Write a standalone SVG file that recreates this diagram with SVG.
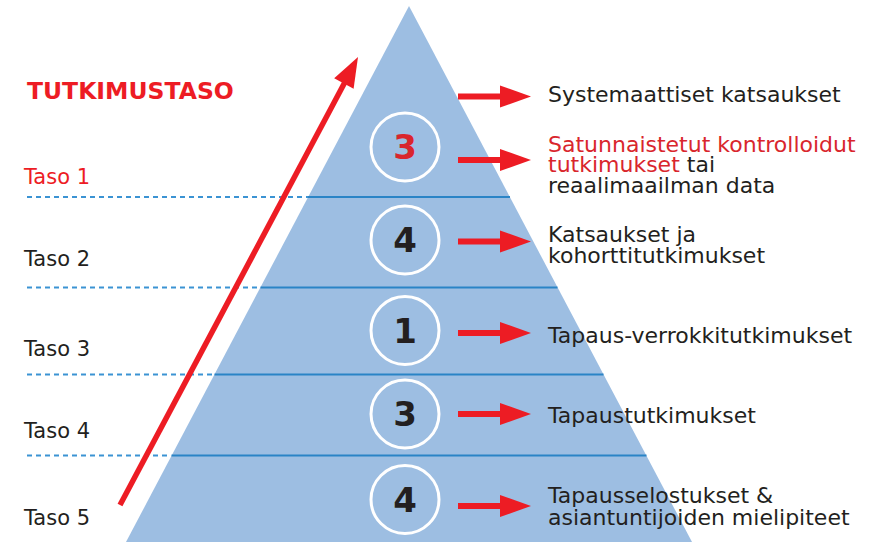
<svg xmlns="http://www.w3.org/2000/svg" width="886" height="542" viewBox="0 0 886 542">
<style>
.t{font-family:"DejaVu Sans","Verdana",sans-serif;font-size:22px;fill:#231f20}
.lv{font-family:"DejaVu Sans","Verdana",sans-serif;font-size:21px;fill:#231f20}
.red{fill:#d9262d}
.num{font-family:"DejaVu Sans","Verdana",sans-serif;font-weight:bold;font-size:34px;fill:#231f20;text-anchor:middle}
.circ{fill:none;stroke:#ffffff;stroke-width:3}
.sol{stroke:#2a84c6;stroke-width:2}
.dash{stroke:#3b93d3;stroke-width:2;stroke-dasharray:5 4}
.ar{fill:#ed1c24}
</style>
<rect width="886" height="542" fill="#ffffff"/>
<g id="pyramid">
<polygon points="409,6 692,542 126,542" fill="#9dbee2"/>
<line class="sol" x1="308" y1="197" x2="510" y2="197"/>
<line class="sol" x1="260.5" y1="287.5" x2="557.5" y2="287.5"/>
<line class="sol" x1="214.5" y1="374.5" x2="603.5" y2="374.5"/>
<line class="sol" x1="171.5" y1="455.5" x2="646.5" y2="455.5"/>
</g>
<g id="levels">
<line class="dash" x1="27" y1="197" x2="308" y2="197"/>
<line class="dash" x1="27" y1="287.5" x2="260" y2="287.5"/>
<line class="dash" x1="27" y1="374.5" x2="214" y2="374.5"/>
<line class="dash" x1="27" y1="455.5" x2="171" y2="455.5"/>
<text x="27" y="99" font-family="DejaVu Sans, Verdana, sans-serif" font-weight="bold" font-size="23.5" fill="#ed1c24">TUTKIMUSTASO</text>
<text class="lv" x="24" y="184" fill="#ed1c24" style="fill:#ed1c24">Taso 1</text>
<text class="lv" x="24" y="266">Taso 2</text>
<text class="lv" x="24" y="356">Taso 3</text>
<text class="lv" x="24" y="438">Taso 4</text>
<text class="lv" x="24" y="525">Taso 5</text>
</g>
<g id="node-1">
<circle class="circ" cx="405" cy="147" r="34"/>
<text class="num" x="405" y="159" style="fill:#d9262d">3</text>
</g>
<g id="node-2">
<circle class="circ" cx="405" cy="240" r="34"/>
<text class="num" x="405" y="252">4</text>
</g>
<g id="node-3">
<circle class="circ" cx="405" cy="330.5" r="34"/>
<text class="num" x="405" y="342.5">1</text>
</g>
<g id="node-4">
<circle class="circ" cx="405" cy="414" r="34"/>
<text class="num" x="405" y="426">3</text>
</g>
<g id="node-5">
<circle class="circ" cx="405" cy="499.5" r="34"/>
<text class="num" x="405" y="511.5">4</text>
</g>
<g id="labels">
<text class="t" x="548" y="101.5">Systemaattiset katsaukset</text>
<text class="t" x="548" y="151.5"><tspan class="red">Satunnaistetut kontrolloidut</tspan></text>
<text class="t" x="548" y="172"><tspan class="red">tutkimukset</tspan> tai</text>
<text class="t" x="548" y="193">reaalimaailman data</text>
<text class="t" x="548" y="241.5">Katsaukset ja</text>
<text class="t" x="548" y="263">kohorttitutkimukset</text>
<text class="t" x="548" y="342.5">Tapaus-verrokkitutkimukset</text>
<text class="t" x="548" y="423">Tapaustutkimukset</text>
<text class="t" x="548" y="502.5">Tapausselostukset &amp;</text>
<text class="t" x="548" y="525">asiantuntijoiden mielipiteet</text>
</g>
<g id="connectors">
<line x1="120" y1="505" x2="345" y2="82" stroke="#ed1c24" stroke-width="5.5"/>
<polygon class="ar" points="358,57 353.6,88.7 343.9,83.5 334.2,78.3"/>
<rect class="ar" x="458" y="93.5" width="44" height="6"/>
<polygon class="ar" points="500,85.5 531,96.5 500,107.5"/>
<rect class="ar" x="458" y="157" width="44" height="6"/>
<polygon class="ar" points="500,149 531,160 500,171"/>
<rect class="ar" x="458" y="238.5" width="44" height="6"/>
<polygon class="ar" points="500,230.5 531,241.5 500,252.5"/>
<rect class="ar" x="458" y="330" width="44" height="6"/>
<polygon class="ar" points="500,322 531,333 500,344"/>
<rect class="ar" x="458" y="411" width="44" height="6"/>
<polygon class="ar" points="500,403 531,414 500,425"/>
<rect class="ar" x="458" y="503" width="44" height="6"/>
<polygon class="ar" points="500,495 531,506 500,517"/>
</g>
</svg>
